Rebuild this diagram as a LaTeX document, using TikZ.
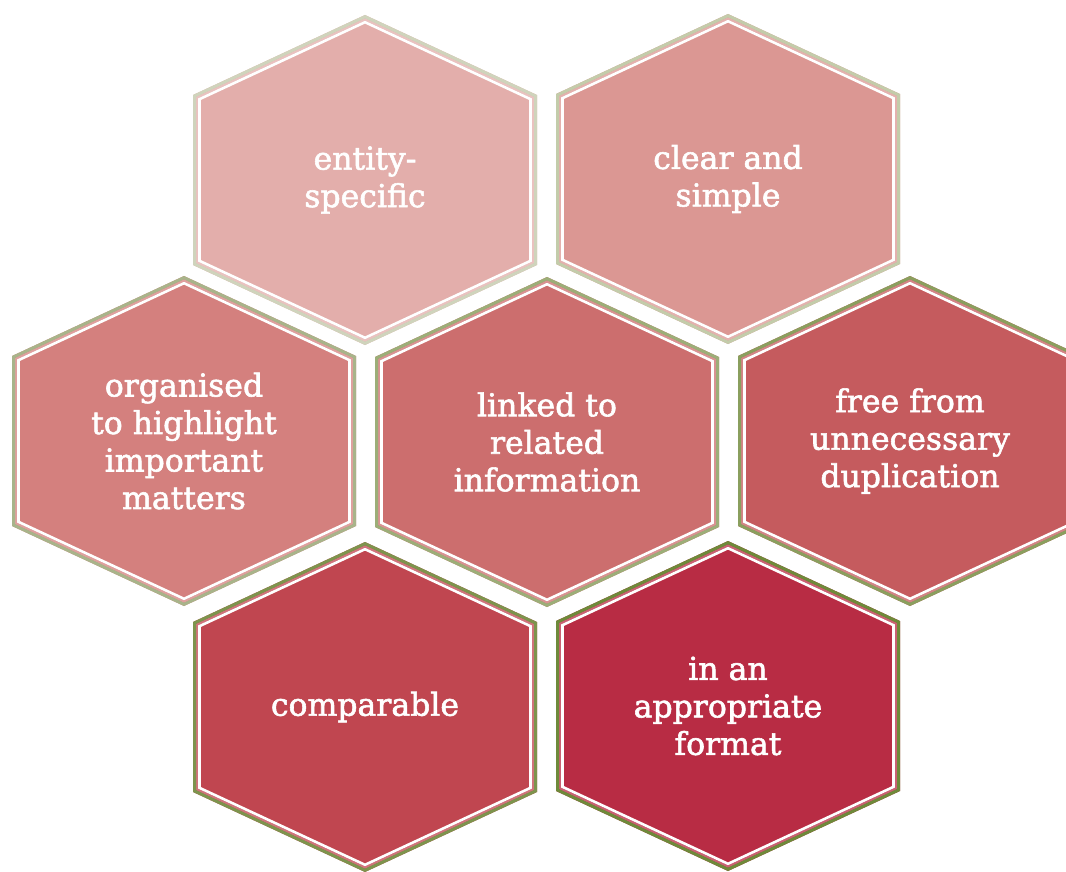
\documentclass[tikz,border=0pt]{standalone}
\usepackage{fontspec}
\setmainfont{DejaVu Serif}
\newfontfamily\lblfont{DejaVu Serif}[FakeBold=1.8]
\definecolor{fA}{HTML}{E3AEAB}\definecolor{bA}{HTML}{CFD4BC}
\definecolor{fB}{HTML}{DB9793}\definecolor{bB}{HTML}{C3CCAA}
\definecolor{fC}{HTML}{D4807E}\definecolor{bC}{HTML}{A8B48A}
\definecolor{fD}{HTML}{CC6E6E}\definecolor{bD}{HTML}{9CAE78}
\definecolor{fE}{HTML}{C55B5E}\definecolor{bE}{HTML}{8A9F5E}
\definecolor{fF}{HTML}{C04650}\definecolor{bF}{HTML}{7D944D}
\definecolor{fG}{HTML}{B82C44}\definecolor{bG}{HTML}{6E8A3A}
% #1 cx, #2 cy, #3 fill, #4 border, #5 name, #6 text
\newcommand{\hexcell}[6]{%
  \fill[#3] ({#1},{#2-165}) -- ({#1+172},{#2-85}) -- ({#1+172},{#2+85}) -- ({#1},{#2+165}) -- ({#1-172},{#2+85}) -- ({#1-172},{#2-85}) -- cycle;
  \draw[#3!75!white, line width=2pt, line join=miter] ({#1},{#2-165+4.4}) -- ({#1+168},{#2-85+2.55}) -- ({#1+168},{#2+85-2.55}) -- ({#1},{#2+165-4.4}) -- ({#1-168},{#2+85-2.55}) -- ({#1-168},{#2-85+2.55}) -- cycle;
  \draw[#4, line width=3pt, line join=miter] ({#1},{#2-165+1.65}) -- ({#1+170.5},{#2-85+0.96}) -- ({#1+170.5},{#2+85-0.96}) -- ({#1},{#2+165-1.65}) -- ({#1-170.5},{#2+85-0.96}) -- ({#1-170.5},{#2-85+0.96}) -- cycle;
  \draw[white, line width=2.6pt, line join=miter] ({#1},{#2-165+7.2}) -- ({#1+165.5},{#2-85+4.15}) -- ({#1+165.5},{#2+85-4.15}) -- ({#1},{#2+165-7.2}) -- ({#1-165.5},{#2+85-4.15}) -- ({#1-165.5},{#2-85+4.15}) -- cycle;
  \node[lbl] (#5) at (#1,#2) {#6};
}
\begin{document}
\begin{tikzpicture}[x=1pt,y=-1pt,
  lbl/.style={text=white, align=center, font=\lblfont\fontsize{31.5}{37.5}\selectfont, inner sep=0pt}]
\useasboundingbox (0,0) rectangle (1066,872);
\clip (0,0) rectangle (1066,872);
\hexcell{365}{180}{fA}{bA}{entity}{entity-\\specific}
\hexcell{728}{179}{fB}{bB}{clear}{clear and\\simple}
\hexcell{184}{441}{fC}{bC}{organised}{organised\\to highlight\\important\\matters}
\hexcell{547}{442}{fD}{bD}{linked}{linked to\\related\\information}
\hexcell{910}{441}{fE}{bE}{free}{free from\\unnecessary\\duplication}
\hexcell{365}{707}{fF}{bF}{comparable}{comparable}
\hexcell{728}{706}{fG}{bG}{format}{in an\\appropriate\\format}
\end{tikzpicture}
\end{document}
